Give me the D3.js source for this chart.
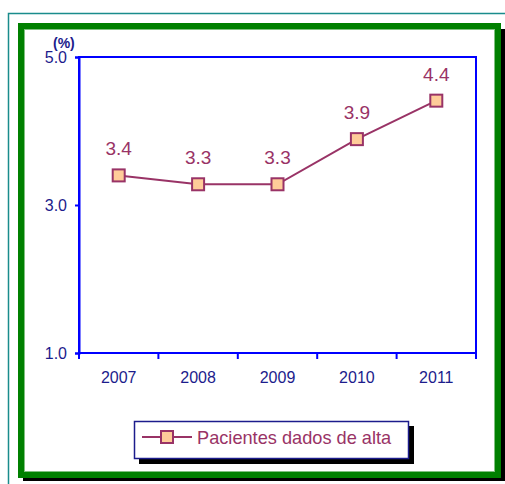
<!DOCTYPE html>
<html><head><meta charset="utf-8">
<script src="https://cdn.jsdelivr.net/npm/d3@7"></script>
<style>body{margin:0;background:#fff}svg{display:block;font-family:"Liberation Sans",Arial,sans-serif}</style>
</head><body>
<svg id="c" width="505" height="484"></svg>
<script>
const years = ["2007","2008","2009","2010","2011"];
const values = [3.4, 3.28, 3.28, 3.89, 4.41];
const labels = ["3.4","3.3","3.3","3.9","4.4"];
const yTicks = [1.0, 3.0, 5.0];
const seriesName = "Pacientes dados de alta";

const svg = d3.select("#c");
// outer teal frame
svg.append("path").attr("d","M8.5,484 L8.5,13.5 L505,13.5").attr("fill","none").attr("stroke","#1a8c8c").attr("stroke-width",1.5);
// shadow of green frame
svg.append("rect").attr("x",23).attr("y",29).attr("width",482).attr("height",452).attr("fill","#000");
// green frame
svg.append("rect").attr("x",21).attr("y",26).attr("width",477).attr("height",449).attr("fill","#fff").attr("stroke","#008000").attr("stroke-width",6);
svg.append("rect").attr("x",24.5).attr("y",29.5).attr("width",470).attr("height",442).attr("fill","none").attr("stroke","#80c080").attr("stroke-width",1);

const L=79, R=476, T=57, B=353;
const x = d3.scaleBand().domain(years).range([L,R]);
const y = d3.scaleLinear().domain([1,5]).range([B,T]);
const navy = "#1c1c8c", blue="#0000ff", line="#993366";
const ff = "Liberation Sans, Arial, sans-serif";

// plot area border
svg.append("rect").attr("x",L).attr("y",T).attr("width",R-L).attr("height",B-T).attr("fill","none").attr("stroke",blue).attr("stroke-width",2);

// y axis
const ya = svg.append("g").attr("transform",`translate(${L},0)`)
  .call(d3.axisLeft(y).tickValues(yTicks).tickFormat(d3.format(".1f")).tickSize(4).tickPadding(8));
ya.select(".domain").attr("stroke",blue).attr("stroke-width",2);
ya.selectAll(".tick line").attr("stroke",blue).attr("stroke-width",2);
ya.selectAll(".tick text").attr("fill",navy).attr("font-size",16).attr("font-family",ff);
svg.append("text").attr("x",53).attr("y",48).attr("fill",navy).attr("font-size",14).attr("font-weight","bold").attr("font-family",ff).text("(%)");

// x axis
const xa = svg.append("g").attr("transform",`translate(0,${B})`)
  .call(d3.axisBottom(x).tickSize(0).tickPadding(19));
xa.select(".domain").remove();
xa.selectAll(".tick text").attr("fill",navy).attr("font-size",16).attr("font-family",ff);
const bounds = [...years.map(d=>x(d)), R];
svg.append("g").selectAll("line").data(bounds).join("line")
  .attr("x1",d=>d).attr("x2",d=>d).attr("y1",B).attr("y2",B+6).attr("stroke",blue).attr("stroke-width",2);

// line
const cx = d => x(d)+x.bandwidth()/2;
svg.append("path").datum(values).attr("fill","none").attr("stroke",line).attr("stroke-width",2)
  .attr("d", d3.line().x((d,i)=>cx(years[i])).y(d=>y(d)));
svg.append("g").selectAll("rect").data(values).join("rect")
  .attr("x",(d,i)=>cx(years[i])-6).attr("y",d=>y(d)-6).attr("width",12).attr("height",12)
  .attr("fill","#ffcc99").attr("stroke",line).attr("stroke-width",2);
svg.append("g").selectAll("text").data(values).join("text")
  .attr("x",(d,i)=>cx(years[i])).attr("y",d=>y(d)-20).attr("text-anchor","middle")
  .attr("fill",line).attr("font-size",19).attr("font-family",ff).text((d,i)=>labels[i]);

// legend
svg.append("rect").attr("x",139).attr("y",426).attr("width",275).attr("height",38).attr("fill","#000");
svg.append("rect").attr("x",134.5).attr("y",421.5).attr("width",274).attr("height",37).attr("fill","#fff").attr("stroke","#1c1c8c").attr("stroke-width",1.5);
svg.append("line").attr("x1",142).attr("x2",192).attr("y1",437).attr("y2",437).attr("stroke",line).attr("stroke-width",2);
svg.append("rect").attr("x",161).attr("y",431).attr("width",12).attr("height",12).attr("fill","#ffcc99").attr("stroke",line).attr("stroke-width",2);
svg.append("text").attr("x",197).attr("y",444).attr("fill",line).attr("font-size",18.2).attr("font-family",ff).text(seriesName);
</script>
</body></html>
